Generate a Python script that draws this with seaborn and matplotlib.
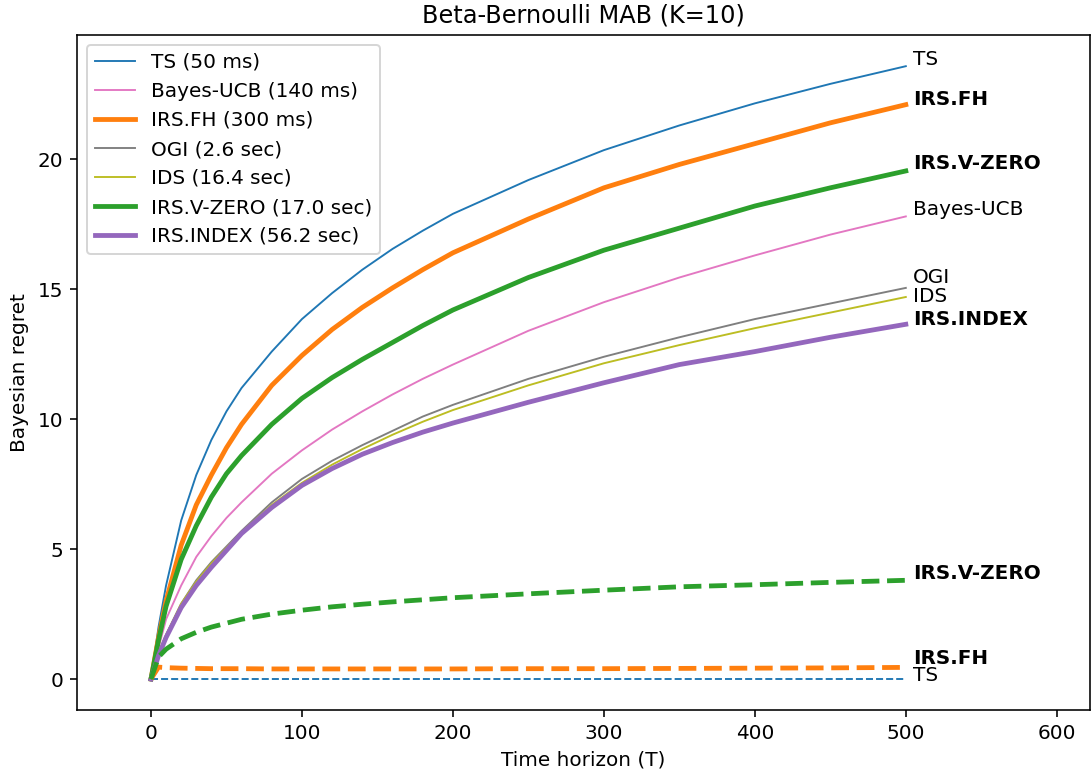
import numpy as np
import pandas as pd
import matplotlib
matplotlib.use("Agg")
import matplotlib.pyplot as plt
import seaborn as sns

T = [0, 5, 10, 20, 30, 40, 50, 60, 80, 100, 120, 140, 160, 180, 200, 250, 300, 350, 400, 450, 500]

ts = [0, 2.0, 3.6, 6.1, 7.85, 9.2, 10.3, 11.2, 12.6, 13.85, 14.85, 15.75, 16.55, 17.25, 17.9, 19.2, 20.35, 21.3, 22.15, 22.9, 23.58]
bayes_ucb = [0, 1.2, 2.3, 3.6, 4.7, 5.5, 6.2, 6.8, 7.9, 8.8, 9.6, 10.3, 10.95, 11.55, 12.1, 13.4, 14.5, 15.45, 16.3, 17.1, 17.8]
irs_fh = [0, 1.6, 3.0, 5.15, 6.7, 7.85, 8.9, 9.8, 11.3, 12.45, 13.45, 14.3, 15.05, 15.75, 16.4, 17.7, 18.9, 19.8, 20.6, 21.4, 22.1]
ogi = [0, 1.0, 1.7, 2.9, 3.8, 4.5, 5.1, 5.7, 6.8, 7.7, 8.4, 9.0, 9.55, 10.1, 10.55, 11.55, 12.4, 13.15, 13.85, 14.45, 15.05]
ids = [0, 1.0, 1.7, 2.9, 3.75, 4.45, 5.05, 5.65, 6.7, 7.55, 8.25, 8.85, 9.4, 9.9, 10.35, 11.3, 12.15, 12.85, 13.5, 14.1, 14.7]
irs_vzero = [0, 1.5, 2.8, 4.6, 5.9, 7.0, 7.9, 8.6, 9.8, 10.8, 11.6, 12.3, 12.95, 13.6, 14.2, 15.45, 16.5, 17.35, 18.2, 18.9, 19.55]
irs_index = [0, 0.9, 1.6, 2.75, 3.6, 4.3, 4.95, 5.6, 6.6, 7.45, 8.1, 8.65, 9.1, 9.5, 9.85, 10.65, 11.4, 12.1, 12.6, 13.15, 13.65]

# dashed curves (not in legend)
ts_d = [0] * len(T)
irs_fh_d = [0, 0.46, 0.44, 0.42, 0.41, 0.40, 0.40, 0.40, 0.39, 0.39, 0.39, 0.39, 0.39, 0.39, 0.39, 0.40, 0.40, 0.41, 0.42, 0.43, 0.45]
irs_vzero_d = [0, 0.85, 1.15, 1.55, 1.8, 2.0, 2.15, 2.3, 2.5, 2.65, 2.78, 2.88, 2.97, 3.05, 3.13, 3.28, 3.42, 3.55, 3.63, 3.72, 3.8]

legend_labels = ["TS (50 ms)", "Bayes-UCB (140 ms)", "IRS.FH (300 ms)", "OGI (2.6 sec)",
                 "IDS (16.4 sec)", "IRS.V-ZERO (17.0 sec)", "IRS.INDEX (56.2 sec)"]
end_labels = ["TS", "Bayes-UCB", "IRS.FH", "OGI", "IDS", "IRS.V-ZERO", "IRS.INDEX"]
dashed_labels = ["TS", "IRS.FH", "IRS.V-ZERO"]

solid_series = [ts, bayes_ucb, irs_fh, ogi, ids, irs_vzero, irs_index]
dashed_series = [ts_d, irs_fh_d, irs_vzero_d]

plt.rcdefaults()
plt.rcParams["font.family"] = ["DejaVu Sans"]
FS = 10
plt.rcParams["font.size"] = FS
DPI = 144

fig = plt.figure(figsize=(1091 / DPI, 775 / DPI), dpi=DPI)
ax = fig.add_axes([77 / 1091, 1 - 710 / 775, (1090 - 77) / 1091, (710 - 35) / 775])

colors = ["#1f77b4", "#e377c2", "#ff7f0e", "#7f7f7f", "#bcbd22", "#2ca02c", "#9467bd"]
widths = [0.95, 0.95, 2.4, 0.95, 0.95, 2.4, 2.4]
bold = [False, False, True, False, False, True, True]
label_y = [23.85, 18.05, 22.3, 15.45, 14.72, 19.85, 13.85]

for vals, lab, c, w in zip(solid_series, legend_labels, colors, widths):
    sns.lineplot(x=T, y=vals, ax=ax, color=c, linewidth=w, label=lab)

dcolors = ["#1f77b4", "#ff7f0e", "#2ca02c"]
dwidths = [0.95, 2.4, 2.4]
dbold = [False, True, True]
dlabel_y = [0.12, 0.8, 4.08]
for vals, c, w in zip(dashed_series, dcolors, dwidths):
    sns.lineplot(x=T, y=vals, ax=ax, color=c, linewidth=w, linestyle="--", legend=False)

for lab, y, b in zip(end_labels, label_y, bold):
    ax.text(T[-1] + 5, y, lab, va="center", ha="left", fontsize=FS,
            fontweight="bold" if b else "normal", color="black")
for lab, y, b in zip(dashed_labels, dlabel_y, dbold):
    ax.text(T[-1] + 5, y, lab, va="center", ha="left", fontsize=FS,
            fontweight="bold" if b else "normal", color="black")

ax.set_xlim(-49, 622)
ax.set_ylim(-1.19, 24.78)
ax.set_xticks([0, 100, 200, 300, 400, 500, 600])
ax.set_yticks([0, 5, 10, 15, 20])
ax.set_xlabel("Time horizon (T)")
ax.set_ylabel("Bayesian regret")
ax.set_title("Beta-Bernoulli MAB (K=10)", fontsize=FS * 1.2)
ax.legend(loc="upper left", fontsize=FS)

fig.savefig("out.png", dpi=DPI)
